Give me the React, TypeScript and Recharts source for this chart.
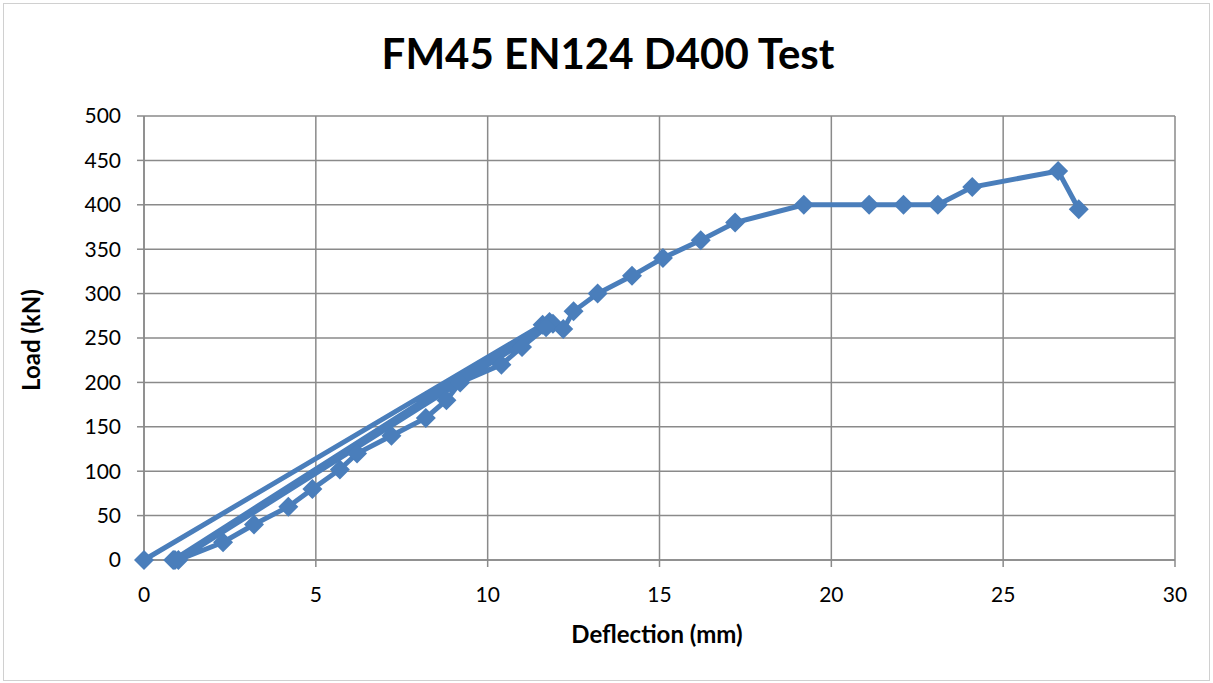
import { LineChart, Line, XAxis, YAxis, CartesianGrid } from "recharts";

// deflection (mm) and load (kN), in test order (three load/unload cycles, then load to failure)
const deflection = [
  0, 11.6, 0.85, 11.8, 0.9, 11.9, 1.0, 2.3, 3.2, 4.2, 4.9, 5.7, 6.2, 7.2, 8.2,
  8.8, 9.2, 10.4, 11.0, 11.7, 12.2, 12.5, 13.2, 14.2, 15.1, 16.2, 17.2, 19.2,
  21.1, 22.1, 23.1, 24.1, 26.6, 27.2,
];
const load = [
  0, 265, 0, 268, 0, 266, 0, 20, 40, 60, 80, 102, 120, 140, 160, 180, 200,
  220, 240, 262, 260, 280, 300, 320, 340, 360, 380, 400, 400, 400, 400, 420,
  438, 395,
];

const xTicks = [0, 5, 10, 15, 20, 25, 30];
const yTicks = [0, 50, 100, 150, 200, 250, 300, 350, 400, 450, 500];

const data = deflection.map((d, i) => ({ d, load: load[i] }));

const BLUE = "#4a7ebb";
const GRID = "#8a8a8a";
const FONT = "Lato, 'Open Sans', sans-serif";

function Diamond(props: any) {
  const { cx, cy } = props;
  if (cx == null || cy == null) return null;
  const r = 10;
  return (
    <polygon
      points={`${cx},${cy - r} ${cx + r},${cy} ${cx},${cy + r} ${cx - r},${cy}`}
      fill={BLUE}
    />
  );
}

export default function App() {
  return (
    <div
      style={{
        position: "absolute",
        left: 0,
        top: 0,
        width: 1213,
        height: 683,
        background: "#fff",
        fontFamily: FONT,
      }}
    >
      <div
        style={{
          position: "absolute",
          left: 3,
          top: 3,
          width: 1205,
          height: 676,
          border: "1px solid #d0d0d0",
        }}
      />
      <div
        style={{
          position: "absolute",
          left: 0,
          top: 28,
          width: 1216,
          textAlign: "center",
          fontSize: 42,
          fontWeight: 700,
          color: "#000",
        }}
      >
        FM45 EN124 D400 Test
      </div>
      <div
        style={{
          position: "absolute",
          left: 0,
          top: 619,
          width: 1314,
          textAlign: "center",
          fontSize: 24,
          fontWeight: 700,
          color: "#000",
        }}
      >
        Deflection (mm)
      </div>
      <div
        style={{
          position: "absolute",
          left: 30,
          top: 340,
          transform: "translate(-50%, -50%) rotate(-90deg)",
          whiteSpace: "nowrap",
          fontSize: 24,
          fontWeight: 700,
          color: "#000",
        }}
      >
        Load (kN)
      </div>
      <div style={{ position: "absolute", left: 0, top: 0 }}>
        <LineChart
          width={1213}
          height={683}
          data={data}
          margin={{ top: 116, right: 38, bottom: 93, left: 84 }}
        >
          <CartesianGrid stroke={GRID} strokeWidth={1.5} />
          <XAxis
            dataKey="d"
            type="number"
            domain={[0, 30]}
            ticks={xTicks}
            height={30}
            tickSize={7}
            tickMargin={20}
            stroke={GRID}
            strokeWidth={1.5}
            tick={{ fill: "#000", fontSize: 21, fontFamily: FONT }}
          />
          <YAxis
            type="number"
            domain={[0, 500]}
            ticks={yTicks}
            width={60}
            tickSize={7}
            tickMargin={16}
            stroke={GRID}
            strokeWidth={1.5}
            tick={{ fill: "#000", fontSize: 21, fontFamily: FONT }}
          />
          <Line
            dataKey="load"
            stroke={BLUE}
            strokeWidth={5}
            dot={<Diamond />}
            activeDot={false}
            isAnimationActive={false}
          />
        </LineChart>
      </div>
    </div>
  );
}
